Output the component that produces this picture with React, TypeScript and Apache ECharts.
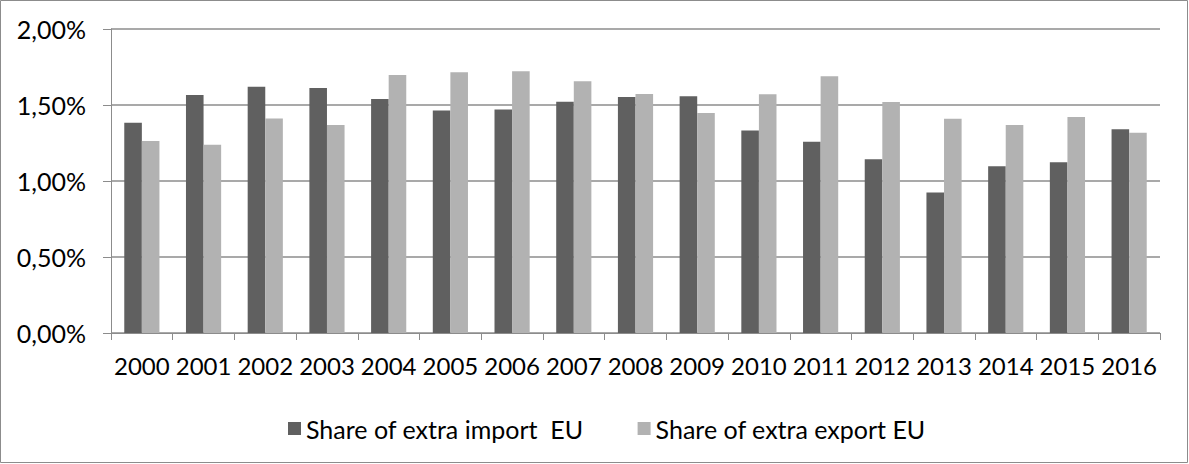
import React, { useEffect, useRef } from "react";
import * as echarts from "echarts";

const years = ["2000","2001","2002","2003","2004","2005","2006","2007","2008","2009","2010","2011","2012","2013","2014","2015","2016"];
const importShare = [1.383,1.566,1.62,1.612,1.539,1.463,1.471,1.522,1.553,1.557,1.333,1.259,1.143,0.925,1.097,1.123,1.34];
const exportShare = [1.263,1.239,1.412,1.368,1.697,1.715,1.722,1.656,1.572,1.447,1.57,1.689,1.52,1.41,1.368,1.421,1.318];
const seriesNames = ["Share of extra import  EU", "Share of extra export EU"];

const FONT = "Lato, 'Noto Sans', sans-serif";
const FS = 25;

export default function App() {
  const ref = useRef<HTMLDivElement>(null);
  useEffect(() => {
    if (!ref.current) return;
    const chart = echarts.init(ref.current, null, { renderer: "svg" });
    chart.setOption({
      animation: false,
      textStyle: { fontFamily: FONT },
      graphic: [
        {
          type: "rect",
          shape: { x: 0.5, y: 0.5, width: 1187, height: 462 },
          style: { fill: "none", stroke: "#8c8c8c", lineWidth: 1 },
          silent: true,
        },
      ],
      grid: { left: 111, right: 29, top: 29, bottom: 131 },
      legend: {
        data: seriesNames,
        top: 411,
        left: 283,
        itemWidth: 13,
        itemHeight: 13,
        itemGap: 54,
        icon: "rect",
        textStyle: { fontSize: FS, color: "#000", fontFamily: FONT },
      },
      xAxis: {
        type: "category",
        data: years,
        boundaryGap: true,
        axisLine: { lineStyle: { color: "#8c8c8c", width: 1 } },
        axisTick: { show: true, length: 7, inside: false, lineStyle: { color: "#8c8c8c" } },
        axisLabel: { fontSize: 24, color: "#000", margin: 20, fontFamily: FONT, interval: 0 },
      },
      yAxis: {
        type: "value",
        min: 0,
        max: 2,
        interval: 0.5,
        axisLine: { show: true, lineStyle: { color: "#8c8c8c", width: 1 } },
        axisTick: { show: true, length: 8, lineStyle: { color: "#8c8c8c" } },
        splitLine: { show: true, lineStyle: { color: "#8c8c8c", width: 1.5 } },
        axisLabel: {
          fontSize: FS,
          color: "#000",
          margin: 25,
          fontFamily: FONT,
          formatter: (v: number) => v.toFixed(2).replace(".", ",") + "%",
        },
      },
      series: [
        {
          name: seriesNames[0],
          type: "bar",
          data: importShare,
          itemStyle: { color: "#606060" },
          barGap: "0%",
          barCategoryGap: "43%",
        },
        {
          name: seriesNames[1],
          type: "bar",
          data: exportShare,
          itemStyle: { color: "#b2b2b2" },
          barGap: "0%",
          barCategoryGap: "43%",
        },
      ],
    });
    return () => chart.dispose();
  }, []);
  return (
    <div
      ref={ref}
      style={{ position: "fixed", left: 0, top: 0, width: 1189, height: 464, background: "#fff" }}
    />
  );
}
